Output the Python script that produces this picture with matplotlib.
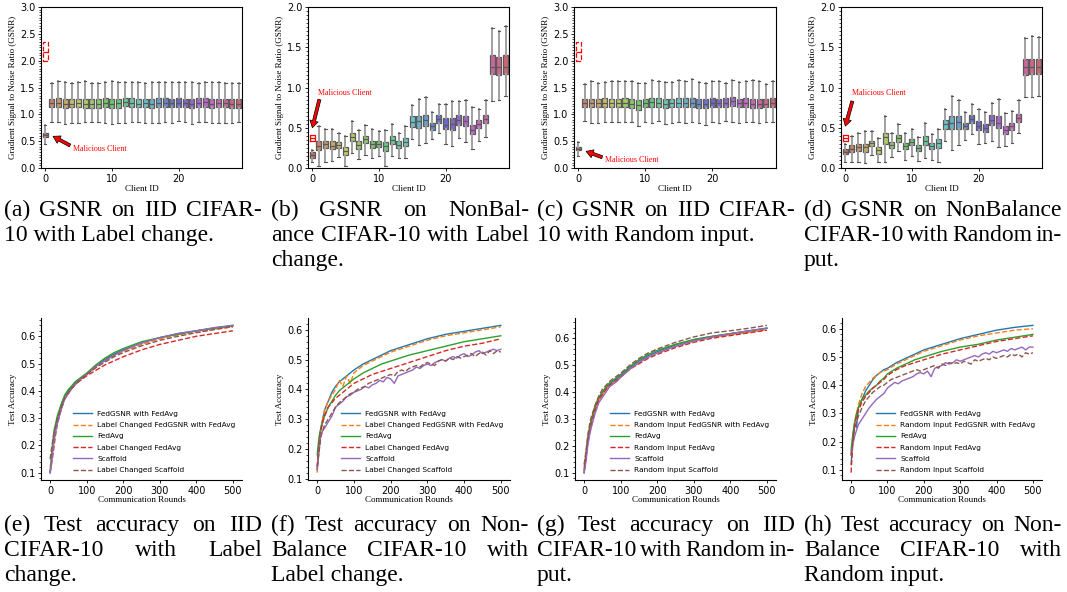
import matplotlib
matplotlib.use('Agg')
import matplotlib.pyplot as plt
from matplotlib.ticker import AutoMinorLocator, MultipleLocator
import seaborn as sns

W, H = 1067, 592
fig = plt.figure(figsize=(W / 100, H / 100), dpi=100)

TICK_FS = 7
LAB_FS = 6.5
LEG_FS = 5.3
CAP_FS = 17
SERIF = 'Liberation Serif'

clients = list(range(30))

# ---- GSNR box data (a) IID label change
q1_a = [0.58, 1.13, 1.14, 1.12, 1.13, 1.13, 1.12, 1.12, 1.12, 1.14, 1.12, 1.12, 1.15, 1.14, 1.13,
        1.13, 1.12, 1.13, 1.14, 1.13, 1.13, 1.13, 1.12, 1.14, 1.14, 1.12, 1.13, 1.13, 1.12, 1.12]
med_a = [0.62, 1.21, 1.22, 1.20, 1.20, 1.21, 1.20, 1.20, 1.20, 1.22, 1.20, 1.21, 1.23, 1.22, 1.20,
         1.21, 1.20, 1.21, 1.22, 1.21, 1.21, 1.21, 1.20, 1.22, 1.23, 1.20, 1.21, 1.21, 1.20, 1.20]
q3_a = [0.66, 1.29, 1.30, 1.29, 1.28, 1.29, 1.29, 1.28, 1.28, 1.30, 1.29, 1.29, 1.30, 1.31, 1.29,
        1.29, 1.29, 1.30, 1.30, 1.29, 1.30, 1.29, 1.29, 1.30, 1.31, 1.28, 1.29, 1.29, 1.29, 1.28]
lo_a = [0.45, 0.86, 0.85, 0.82, 0.83, 0.84, 0.85, 0.86, 0.85, 0.84, 0.82, 0.83, 0.84, 0.85, 0.86,
        0.84, 0.83, 0.84, 0.85, 0.84, 0.87, 0.86, 0.82, 0.85, 0.86, 0.83, 0.84, 0.84, 0.84, 0.85]
hi_a = [0.80, 1.59, 1.62, 1.61, 1.58, 1.61, 1.62, 1.59, 1.59, 1.61, 1.62, 1.61, 1.61, 1.61, 1.60,
        1.59, 1.60, 1.60, 1.60, 1.61, 1.60, 1.61, 1.60, 1.59, 1.61, 1.61, 1.60, 1.59, 1.59, 1.59]

# (b) NonBalance label change
q1_b = [0.12, 0.22, 0.25, 0.23, 0.25, 0.16, 0.34, 0.24, 0.31, 0.25, 0.26, 0.21, 0.30, 0.25, 0.27,
        0.51, 0.50, 0.52, 0.47, 0.56, 0.49, 0.47, 0.54, 0.52, 0.42, 0.50, 0.56, 1.17, 1.16, 1.17]
med_b = [0.16, 0.27, 0.30, 0.27, 0.29, 0.21, 0.39, 0.28, 0.36, 0.30, 0.30, 0.27, 0.35, 0.29, 0.32,
         0.57, 0.58, 0.60, 0.52, 0.61, 0.54, 0.55, 0.60, 0.58, 0.47, 0.55, 0.61, 1.26, 1.25, 1.26]
q3_b = [0.20, 0.33, 0.34, 0.33, 0.32, 0.26, 0.44, 0.33, 0.40, 0.34, 0.34, 0.32, 0.40, 0.33, 0.37,
        0.64, 0.65, 0.66, 0.56, 0.66, 0.62, 0.62, 0.66, 0.64, 0.53, 0.60, 0.66, 1.40, 1.38, 1.40]
lo_b = [0.08, 0.02, 0.08, 0.09, 0.14, 0.02, 0.19, 0.11, 0.16, 0.12, 0.15, 0.03, 0.15, 0.13, 0.13,
        0.36, 0.28, 0.31, 0.36, 0.44, 0.30, 0.27, 0.37, 0.32, 0.24, 0.34, 0.39, 0.83, 0.85, 0.89]
hi_b = [0.22, 0.52, 0.49, 0.48, 0.43, 0.40, 0.59, 0.47, 0.54, 0.49, 0.46, 0.47, 0.55, 0.44, 0.52,
        0.78, 0.86, 0.88, 0.69, 0.79, 0.79, 0.83, 0.83, 0.84, 0.76, 0.73, 0.84, 1.74, 1.70, 1.77]

# (c) IID random input
q1_c = [0.33, 1.13, 1.13, 1.13, 1.14, 1.13, 1.13, 1.14, 1.12, 1.09, 1.13, 1.14, 1.14, 1.11, 1.13,
        1.14, 1.13, 1.14, 1.12, 1.11, 1.14, 1.13, 1.13, 1.15, 1.13, 1.14, 1.12, 1.12, 1.13, 1.14]
med_c = [0.36, 1.21, 1.21, 1.21, 1.22, 1.21, 1.21, 1.22, 1.20, 1.17, 1.21, 1.23, 1.22, 1.20, 1.21,
         1.22, 1.21, 1.22, 1.20, 1.20, 1.22, 1.21, 1.21, 1.24, 1.21, 1.22, 1.20, 1.20, 1.20, 1.22]
q3_c = [0.40, 1.29, 1.29, 1.29, 1.30, 1.29, 1.29, 1.31, 1.28, 1.27, 1.29, 1.31, 1.31, 1.28, 1.29,
        1.31, 1.30, 1.31, 1.29, 1.29, 1.31, 1.29, 1.30, 1.33, 1.29, 1.30, 1.29, 1.29, 1.28, 1.30]
lo_c = [0.22, 0.87, 0.83, 0.83, 0.86, 0.86, 0.85, 0.86, 0.85, 0.78, 0.86, 0.84, 0.87, 0.82, 0.84,
        0.85, 0.84, 0.85, 0.83, 0.80, 0.86, 0.84, 0.87, 0.86, 0.83, 0.85, 0.85, 0.83, 0.85, 0.86]
hi_c = [0.48, 1.56, 1.63, 1.59, 1.61, 1.62, 1.62, 1.63, 1.62, 1.59, 1.58, 1.64, 1.63, 1.61, 1.61,
        1.64, 1.63, 1.65, 1.60, 1.58, 1.63, 1.63, 1.58, 1.64, 1.60, 1.62, 1.64, 1.62, 1.57, 1.63]

# (d) NonBalance random input
q1_d = [0.18, 0.20, 0.21, 0.20, 0.27, 0.18, 0.30, 0.25, 0.32, 0.23, 0.28, 0.21, 0.29, 0.23, 0.25,
        0.49, 0.48, 0.49, 0.48, 0.56, 0.47, 0.45, 0.53, 0.50, 0.42, 0.47, 0.57, 1.16, 1.17, 1.17]
med_d = [0.20, 0.24, 0.26, 0.26, 0.31, 0.22, 0.39, 0.28, 0.37, 0.27, 0.32, 0.25, 0.34, 0.27, 0.31,
         0.55, 0.56, 0.57, 0.52, 0.61, 0.52, 0.50, 0.60, 0.56, 0.47, 0.52, 0.62, 1.25, 1.26, 1.25]
q3_d = [0.23, 0.28, 0.30, 0.30, 0.34, 0.26, 0.43, 0.32, 0.41, 0.31, 0.36, 0.29, 0.40, 0.31, 0.36,
        0.60, 0.65, 0.64, 0.56, 0.66, 0.58, 0.55, 0.66, 0.64, 0.52, 0.56, 0.67, 1.35, 1.36, 1.36]
lo_d = [0.08, 0.08, 0.08, 0.06, 0.16, 0.07, 0.08, 0.14, 0.21, 0.10, 0.15, 0.09, 0.13, 0.10, 0.07,
        0.34, 0.22, 0.28, 0.35, 0.42, 0.30, 0.31, 0.33, 0.26, 0.27, 0.31, 0.43, 0.88, 0.88, 0.89]
hi_d = [0.30, 0.40, 0.44, 0.46, 0.46, 0.37, 0.64, 0.44, 0.55, 0.44, 0.48, 0.39, 0.56, 0.42, 0.49,
        0.73, 0.90, 0.84, 0.69, 0.80, 0.73, 0.70, 0.81, 0.86, 0.68, 0.71, 0.84, 1.62, 1.64, 1.63]

# red reference box of the malicious client (q1, med, q3)
ghost_iid = [2.00, 2.17, 2.35]
ghost_nb = [0.33, 0.37, 0.41]

# ---- test accuracy curves
rounds = [0, 5, 10, 15, 20, 30, 40, 50, 60, 70, 80, 90, 100, 125, 150, 175, 200, 250, 300, 350, 400, 450, 500]
rounds_fine = list(range(0, 501, 10))

labels_lc = ['FedGSNR with FedAvg', 'Label Changed FedGSNR with FedAvg', 'FedAvg',
             'Label Changed FedAvg', 'Scaffold', 'Label Changed Scaffold']
labels_ri = ['FedGSNR with FedAvg', 'Random Input FedGSNR with FedAvg', 'FedAvg',
             'Random Input FedAvg', 'Scaffold', 'Random Input Scaffold']

# (e)
e_gsnr = [0.10, 0.17, 0.23, 0.27, 0.30, 0.345, 0.38, 0.40, 0.415, 0.43, 0.44, 0.45, 0.46, 0.49, 0.515, 0.535, 0.55, 0.575, 0.595, 0.61, 0.62, 0.63, 0.64]
e_gsnr_atk = [0.12, 0.16, 0.22, 0.26, 0.29, 0.34, 0.375, 0.395, 0.41, 0.425, 0.44, 0.45, 0.46, 0.485, 0.51, 0.53, 0.545, 0.57, 0.59, 0.605, 0.615, 0.625, 0.635]
e_avg = [0.10, 0.18, 0.25, 0.28, 0.31, 0.35, 0.385, 0.405, 0.42, 0.435, 0.445, 0.455, 0.465, 0.495, 0.52, 0.54, 0.555, 0.58, 0.595, 0.607, 0.62, 0.63, 0.638]
e_avg_atk = [0.10, 0.14, 0.19, 0.24, 0.28, 0.33, 0.37, 0.39, 0.41, 0.425, 0.435, 0.445, 0.455, 0.475, 0.495, 0.51, 0.525, 0.55, 0.57, 0.585, 0.60, 0.61, 0.62]
e_scaf = [0.10, 0.15, 0.21, 0.25, 0.28, 0.33, 0.37, 0.39, 0.41, 0.425, 0.44, 0.45, 0.46, 0.49, 0.51, 0.53, 0.548, 0.575, 0.595, 0.61, 0.62, 0.632, 0.64]
e_scaf_atk = [0.15, 0.20, 0.24, 0.27, 0.30, 0.34, 0.375, 0.395, 0.41, 0.425, 0.44, 0.45, 0.46, 0.485, 0.505, 0.525, 0.54, 0.565, 0.585, 0.60, 0.613, 0.625, 0.635]

# (f)
f_gsnr = [0.13, 0.22, 0.27, 0.30, 0.33, 0.36, 0.39, 0.41, 0.425, 0.435, 0.445, 0.455, 0.465, 0.485, 0.50, 0.515, 0.53, 0.55, 0.57, 0.585, 0.595, 0.605, 0.615]
f_gsnr_atk = [0.12, 0.20, 0.26, 0.30, 0.33, 0.36, 0.38, 0.40, 0.43, 0.41, 0.445, 0.42, 0.455, 0.48, 0.495, 0.51, 0.525, 0.545, 0.565, 0.58, 0.59, 0.60, 0.61]
f_avg = [0.18, 0.24, 0.27, 0.29, 0.31, 0.34, 0.36, 0.38, 0.395, 0.405, 0.415, 0.425, 0.435, 0.455, 0.47, 0.485, 0.495, 0.515, 0.53, 0.545, 0.56, 0.57, 0.58]
f_avg_atk = [0.14, 0.22, 0.26, 0.29, 0.31, 0.34, 0.355, 0.37, 0.38, 0.39, 0.40, 0.41, 0.42, 0.435, 0.45, 0.46, 0.47, 0.49, 0.51, 0.53, 0.545, 0.555, 0.57]
f_scaf = [0.13, 0.25, 0.27, 0.29, 0.31, 0.34, 0.35, 0.36, 0.375, 0.38, 0.39, 0.395, 0.40, 0.41, 0.405, 0.415, 0.42,
          0.43, 0.425, 0.44, 0.435, 0.42, 0.445, 0.45, 0.455, 0.46, 0.465, 0.475, 0.47, 0.48, 0.485, 0.48, 0.49,
          0.495, 0.50, 0.495, 0.505, 0.51, 0.505, 0.515, 0.52, 0.51, 0.515, 0.525, 0.53, 0.52, 0.525, 0.53,
          0.535, 0.53, 0.535]
f_scaf_atk = [0.14, 0.24, 0.28, 0.30, 0.32, 0.34, 0.355, 0.365, 0.375, 0.385, 0.39, 0.40, 0.405, 0.41, 0.42, 0.425, 0.43,
              0.435, 0.44, 0.445, 0.45, 0.445, 0.46, 0.465, 0.46, 0.47, 0.475, 0.48, 0.475, 0.485, 0.49, 0.485, 0.48,
              0.495, 0.50, 0.495, 0.505, 0.50, 0.51, 0.505, 0.51, 0.515, 0.52, 0.51, 0.52, 0.525, 0.515, 0.53,
              0.52, 0.53, 0.525]

# (g)
g_gsnr = [0.10, 0.16, 0.22, 0.26, 0.29, 0.34, 0.375, 0.40, 0.415, 0.43, 0.44, 0.45, 0.46, 0.49, 0.515, 0.535, 0.55, 0.575, 0.595, 0.607, 0.617, 0.627, 0.637]
g_gsnr_atk = [0.12, 0.17, 0.22, 0.26, 0.29, 0.335, 0.37, 0.39, 0.41, 0.425, 0.435, 0.445, 0.455, 0.485, 0.51, 0.53, 0.545, 0.57, 0.59, 0.603, 0.613, 0.622, 0.632]
g_avg = [0.10, 0.17, 0.23, 0.27, 0.30, 0.35, 0.38, 0.40, 0.42, 0.435, 0.445, 0.455, 0.465, 0.495, 0.52, 0.54, 0.555, 0.578, 0.595, 0.607, 0.617, 0.627, 0.637]
g_avg_atk = [0.11, 0.16, 0.21, 0.25, 0.28, 0.33, 0.37, 0.39, 0.41, 0.425, 0.435, 0.445, 0.455, 0.485, 0.505, 0.525, 0.54, 0.565, 0.585, 0.60, 0.61, 0.62, 0.63]
g_scaf = [0.10, 0.14, 0.20, 0.24, 0.27, 0.32, 0.36, 0.38, 0.40, 0.42, 0.43, 0.44, 0.455, 0.485, 0.51, 0.53, 0.545, 0.57, 0.59, 0.605, 0.617, 0.628, 0.638]
g_scaf_atk = [0.13, 0.18, 0.24, 0.28, 0.31, 0.35, 0.385, 0.41, 0.425, 0.44, 0.45, 0.46, 0.47, 0.50, 0.525, 0.545, 0.56, 0.585, 0.605, 0.62, 0.628, 0.637, 0.648]

# (h)
h_gsnr = [0.12, 0.21, 0.26, 0.25, 0.32, 0.35, 0.38, 0.40, 0.42, 0.435, 0.445, 0.455, 0.46, 0.48, 0.495, 0.51, 0.525, 0.545, 0.565, 0.58, 0.595, 0.605, 0.612]
h_gsnr_atk = [0.15, 0.22, 0.27, 0.30, 0.33, 0.37, 0.395, 0.41, 0.425, 0.435, 0.445, 0.45, 0.455, 0.475, 0.49, 0.505, 0.52, 0.54, 0.56, 0.575, 0.585, 0.595, 0.60]
h_avg = [0.17, 0.23, 0.27, 0.30, 0.32, 0.35, 0.365, 0.38, 0.39, 0.40, 0.415, 0.425, 0.44, 0.46, 0.475, 0.49, 0.50, 0.52, 0.535, 0.545, 0.56, 0.57, 0.58]
h_avg_atk = [0.09, 0.20, 0.26, 0.29, 0.31, 0.34, 0.36, 0.375, 0.39, 0.40, 0.41, 0.42, 0.435, 0.455, 0.47, 0.48, 0.49, 0.51, 0.525, 0.54, 0.555, 0.565, 0.575]
h_scaf = [0.16, 0.22, 0.26, 0.28, 0.30, 0.32, 0.335, 0.35, 0.36, 0.37, 0.39, 0.40, 0.41, 0.405, 0.415, 0.42, 0.425,
          0.43, 0.44, 0.445, 0.44, 0.45, 0.43, 0.46, 0.465, 0.47, 0.48, 0.475, 0.48, 0.49, 0.485, 0.49, 0.495,
          0.50, 0.505, 0.50, 0.51, 0.515, 0.51, 0.52, 0.515, 0.52, 0.525, 0.52, 0.53, 0.525, 0.53, 0.535,
          0.525, 0.535, 0.535]
h_scaf_atk = [0.15, 0.25, 0.29, 0.32, 0.345, 0.36, 0.375, 0.385, 0.395, 0.40, 0.41, 0.42, 0.425, 0.43, 0.435, 0.44, 0.445,
              0.45, 0.455, 0.45, 0.455, 0.46, 0.465, 0.47, 0.46, 0.475, 0.47, 0.48, 0.475, 0.48, 0.475, 0.485, 0.48,
              0.475, 0.49, 0.485, 0.49, 0.495, 0.49, 0.50, 0.495, 0.50, 0.505, 0.50, 0.51, 0.505, 0.51, 0.50,
              0.515, 0.51, 0.515]

captions = {
    'a': ['(a) GSNR on IID CIFAR-', '10 with Label change.'],
    'b': ['(b) GSNR on NonBal-', 'ance CIFAR-10 with Label', 'change.'],
    'c': ['(c) GSNR on IID CIFAR-', '10 with Random input.'],
    'd': ['(d) GSNR on NonBalance', 'CIFAR-10 with Random in-', 'put.'],
    'e': ['(e) Test accuracy on IID', 'CIFAR-10 with Label', 'change.'],
    'f': ['(f) Test accuracy on Non-', 'Balance CIFAR-10 with', 'Label change.'],
    'g': ['(g) Test accuracy on IID', 'CIFAR-10 with Random in-', 'put.'],
    'h': ['(h) Test accuracy on Non-', 'Balance CIFAR-10 with', 'Random input.'],
}

colors = sns.color_palette('hls', 30, desat=0.75)
line_colors = ['#1f77b4', '#ff7f0e', '#2ca02c', '#d62728', '#9467bd', '#8c564b']
line_styles = ['-', '--', '-', '--', '-', '--']


def px_axes(l, t, r, b):
    return fig.add_axes([l / W, 1 - b / H, (r - l) / W, (b - t) / H])


def style_ticks(ax):
    ax.tick_params(labelsize=TICK_FS, length=2.5, width=0.6, pad=1.5)
    ax.tick_params(which='minor', length=1.3, width=0.5)


def box_panel(ax, q1, med, q3, lo, hi, ghost, ghost_ls, ymax, tail, tip, txt):
    stats = [dict(q1=q1[i], med=med[i], q3=q3[i], whislo=lo[i], whishi=hi[i]) for i in clients]
    bp = ax.bxp(stats, positions=clients, widths=0.75, patch_artist=True, showfliers=False,
                boxprops=dict(edgecolor='#5a5a5a', linewidth=0.9),
                medianprops=dict(color='#5a5a5a', linewidth=0.9),
                whiskerprops=dict(color='#a0a0a0', linewidth=1.4),
                capprops=dict(color='#555555', linewidth=0.8), manage_ticks=False)
    for patch, c in zip(bp['boxes'], colors):
        patch.set_facecolor(c)
    g = dict(q1=ghost[0], med=ghost[1], q3=ghost[2], whislo=ghost[0], whishi=ghost[2])
    ax.bxp([g], positions=[0], widths=0.75, showfliers=False, showcaps=False, manage_ticks=False,
           boxprops=dict(color='red', linestyle=ghost_ls, linewidth=0.9),
           medianprops=dict(color='red', linestyle=ghost_ls, linewidth=0.9),
           whiskerprops=dict(linewidth=0))
    ax.annotate('', xy=tip, xytext=tail,
                arrowprops=dict(facecolor='red', edgecolor='black', linewidth=0.5,
                                width=2.2, headwidth=6, headlength=5, shrink=0))
    ax.text(txt[0], txt[1], 'Malicious Client', color='red', fontsize=5.8,
            family=SERIF, va='center', ha='left')
    ax.set_xlim(-0.6, 29.5)
    ax.set_ylim(0, ymax)
    ax.set_xticks([0, 10, 20])
    ax.yaxis.set_major_locator(MultipleLocator(0.5))
    ax.yaxis.set_minor_locator(AutoMinorLocator(10))
    ax.set_xlabel('Client ID', family=SERIF, fontsize=LAB_FS, labelpad=1)
    ax.set_ylabel('Gradient Signal to Noise Ratio (GSNR)', family=SERIF, fontsize=LAB_FS, labelpad=2)
    style_ticks(ax)


def acc_panel(ax, series, labels):
    for i, (x, y) in enumerate(series):
        ax.plot(x, y, color=line_colors[i], ls=line_styles[i], lw=1.0, label=labels[i])
    ax.spines['top'].set_visible(False)
    ax.spines['right'].set_visible(False)
    ax.set_xticks([0, 100, 200, 300, 400, 500])
    ax.yaxis.set_major_locator(MultipleLocator(0.1))
    ax.yaxis.set_minor_locator(AutoMinorLocator(5))
    ax.set_xlabel('Communication Rounds', family=SERIF, fontsize=LAB_FS, labelpad=0)
    ax.set_ylabel('Test Accuracy', family=SERIF, fontsize=LAB_FS, labelpad=2)
    ax.legend(loc='lower right', bbox_to_anchor=(1.0, 0.0), frameon=False, fontsize=LEG_FS,
              handlelength=2.6, labelspacing=0.7, handletextpad=0.7)
    style_ticks(ax)


# top row: GSNR boxes
ax_a = px_axes(41, 7, 242, 168)
box_panel(ax_a, q1_a, med_a, q3_a, lo_a, hi_a, ghost_iid, '--', 3.0, (3.75, 0.42), (1.2, 0.59), (4.15, 0.35))
ax_b = px_axes(308, 7, 509, 168)
box_panel(ax_b, q1_b, med_b, q3_b, lo_b, hi_b, ghost_nb, '-', 2.0, (1.1, 0.85), (0.05, 0.5), (0.9, 0.93))
ax_c = px_axes(574, 7, 776, 168)
box_panel(ax_c, q1_c, med_c, q3_c, lo_c, hi_c, ghost_iid, '--', 3.0, (3.6, 0.2), (1.2, 0.31), (3.95, 0.15))
ax_d = px_axes(841, 7, 1042, 168)
box_panel(ax_d, q1_d, med_d, q3_d, lo_d, hi_d, ghost_nb, '-', 2.0, (1.1, 0.83), (0.05, 0.52), (1.0, 0.93))

# bottom row: test accuracy
ax_e = px_axes(41, 318, 242, 480)
acc_panel(ax_e, [(rounds, e_gsnr), (rounds, e_gsnr_atk), (rounds, e_avg), (rounds, e_avg_atk),
                 (rounds, e_scaf), (rounds, e_scaf_atk)], labels_lc)
ax_f = px_axes(308, 318, 510, 480)
acc_panel(ax_f, [(rounds, f_gsnr), (rounds, f_gsnr_atk), (rounds, f_avg), (rounds, f_avg_atk),
                 (rounds_fine, f_scaf), (rounds_fine, f_scaf_atk)], labels_lc)
ax_g = px_axes(575, 318, 776, 480)
acc_panel(ax_g, [(rounds, g_gsnr), (rounds, g_gsnr_atk), (rounds, g_avg), (rounds, g_avg_atk),
                 (rounds, g_scaf), (rounds, g_scaf_atk)], labels_ri)
ax_h = px_axes(842, 318, 1042, 480)
acc_panel(ax_h, [(rounds, h_gsnr), (rounds, h_gsnr_atk), (rounds, h_avg), (rounds, h_avg_atk),
                 (rounds_fine, h_scaf), (rounds_fine, h_scaf_atk)], labels_ri)

# captions, justified like the paper
renderer = fig.canvas.get_renderer()


def caption(x0, width, y0, lines, step=25):
    for k, line in enumerate(lines):
        y = 1 - (y0 + k * step) / H
        words = line.split(' ')
        if k == len(lines) - 1 or len(words) == 1:
            fig.text(x0 / W, y, line, family=SERIF, fontsize=CAP_FS, va='baseline')
            continue
        objs = [fig.text(0, y, w, family=SERIF, fontsize=CAP_FS, va='baseline') for w in words]
        widths = [o.get_window_extent(renderer).width for o in objs]
        gap = (width - sum(widths)) / (len(words) - 1)
        x = x0
        for o, w in zip(objs, widths):
            o.set_x(x / W)
            x += w + gap


col_left = [4, 271, 537, 804]
for i, key in enumerate('abcd'):
    caption(col_left[i], 258, 216, captions[key])
for i, key in enumerate('efgh'):
    caption(col_left[i], 258, 531, captions[key])

fig.savefig('out.png', dpi=100)
